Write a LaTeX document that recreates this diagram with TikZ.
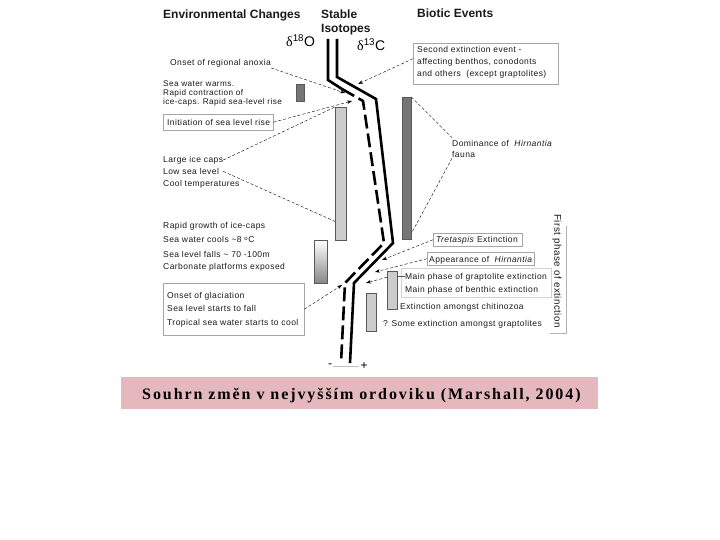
\documentclass[tikz,border=0pt]{standalone}
\usepackage{fontspec}
\setmainfont{Liberation Sans}
\newfontfamily\notefont[LetterSpace=5]{Liberation Sans}
\newfontfamily\greekfont{Liberation Serif}
\newfontfamily\capfont[LetterSpace=12]{Liberation Serif}
\usetikzlibrary{positioning, arrows.meta, shadows}

\definecolor{capbg}{RGB}{229,184,190}
\definecolor{bardark}{RGB}{118,118,118}
\definecolor{barlight}{RGB}{204,204,204}

\begin{document}
\begin{tikzpicture}[x=1pt, y=-1pt,
    head/.style={font=\bfseries\fontsize{12}{14}\selectfont, inner sep=0pt, anchor=base west, text=black!90},
    note/.style={font=\notefont\fontsize{8.5}{10}\selectfont, inner sep=0pt, anchor=base west, text=black!90},
    tightnote/.style={font=\notefont\fontsize{8.2}{9}\selectfont, inner sep=0pt, anchor=base west, text=black!90},
    iso/.style={font=\fontsize{14}{16}\selectfont, inner sep=0pt, anchor=base west},
    tbox/.style={draw=gray!70, fill=white, anchor=north west, inner sep=0pt,
        drop shadow={shadow xshift=1.2pt, shadow yshift=-1.2pt, fill=gray!55, opacity=1}},
    bar/.style={draw=gray!70!black, line width=0.4pt, anchor=north west, inner sep=0pt},
    isoline/.style={line width=2.6pt},
    pointer/.style={densely dashed, line width=0.4pt, -{Stealth[length=5pt, width=3.5pt]}},
    guide/.style={densely dashed, line width=0.4pt}]
    \useasboundingbox (0,0) rectangle (720,540);

    % headings
    \node[head] (envhead) at (163,19) {Environmental Changes};
    \node[head] (isohead) at (321,19) {Stable};
    \node[head] (isohead2) at (321,33) {Isotopes};
    \node[head] (biohead) at (417,18) {Biotic Events};
    \node[iso] (doxygen) at (286,47) {{\greekfont δ}\textsuperscript{18}O};
    \node[iso] (dcarbon) at (357,51) {{\greekfont δ}\textsuperscript{13}C};

    % isotope curves
    \draw[isoline] (337,39) -- (337,77) -- (376,99) -- (393,243) -- (354,283) -- (350,363);
    \draw[isoline] (328,39) -- (328,80) -- (342,89);
    \draw[isoline, dash pattern=on 14pt off 5pt] (342,89) -- (363,101) -- (384,243) -- (345,283) -- (341,363);
    \node[font=\fontsize{12}{14}\selectfont, inner sep=1pt] (minus) at (330,366) {-};
    \node[font=\fontsize{12}{14}\selectfont, inner sep=1pt] (plus) at (364,366) {+};
    \draw[gray!50] (minus) -- (plus);

    % bars
    \node[bar, fill=bardark, minimum width=8pt, minimum height=17pt] (warmbar) at (296,84) {};
    \node[bar, fill=barlight, minimum width=11pt, minimum height=133pt] (icebar) at (335,107) {};
    \node[bar, top color=white, bottom color=gray!95, minimum width=13pt, minimum height=43pt] (coolbar) at (314,240) {};
    \node[bar, fill=bardark, minimum width=9pt, minimum height=142pt] (himbar) at (402,97) {};
    \node[bar, fill=barlight, minimum width=10pt, minimum height=38pt] (graptbar) at (387,271) {};
    \node[bar, fill=barlight, minimum width=10pt, minimum height=38pt] (somebar) at (366,293) {};

    % arrow targets on the curves
    \coordinate (anoxtip) at (345,93);
    \coordinate (risetip) at (352,101);
    \coordinate (secondtip) at (358,84);
    \coordinate (glactip) at (342,285);
    \coordinate (tretatip) at (382,260);
    \coordinate (apptip) at (375,272);
    \coordinate (grapttip) at (366,283);

    % environmental changes
    \node[note] (anoxia) at (170,66) {Onset of regional anoxia};
    \foreach \t [count=\i] in {Sea water warms., Rapid contraction of, {ice-caps. Rapid sea-level rise}}
    {
    \node[tightnote] (warm\i) at (163,78+9*\i) {\t};
    }
    \node[tbox, minimum width=110pt, minimum height=16pt] (risebox) at (163,114) {};
    \node[note] (rise) at (167,125.5) {Initiation of sea level rise};
    \foreach \t [count=\i] in {Large ice caps, Low sea level, Cool temperatures}
    {
    \node[note] (ice\i) at (163,150+12.2*\i) {\t};
    }
    \node[note] (cool1) at (163,229) {Rapid growth of ice-caps};
    \node[note] (cool2) at (163,243) {Sea water cools \textasciitilde8 \textsuperscript{o}C};
    \node[note] (cool3) at (163,257) {Sea level falls \textasciitilde\ 70 -100m};
    \node[note] (cool4) at (163,269.5) {Carbonate platforms exposed};
    \node[tbox, minimum width=141pt, minimum height=52pt] (glacbox) at (163,283) {};
    \foreach \t [count=\i] in {Onset of glaciation, Sea level starts to fall, Tropical sea water starts to cool}
    {
    \node[note] (glac\i) at (167,284.5+13.5*\i) {\t};
    }

    % biotic events
    \node[tbox, minimum width=145pt, minimum height=41pt] (secondbox) at (413,43) {};
    \foreach \t [count=\i] in {Second extinction event -, {affecting benthos, conodonts}, and others\ \ (except graptolites)}
    {
    \node[note] (second\i) at (417,41+12*\i) {\t};
    }
    \node[note] (dom1) at (452,147) {Dominance of\ \ \textit{Hirnantia}};
    \node[note] (dom2) at (452,158) {fauna};
    \node[tbox, minimum width=89pt, minimum height=13pt] (tretabox) at (433,233) {};
    \node[note] (treta) at (436,242.5) {\textit{Tretaspis} Extinction};
    \node[tbox, minimum width=107pt, minimum height=13pt] (appbox) at (427,252) {};
    \node[note] (app) at (429,262) {Appearance of\ \ \textit{Hirnantia}};
    \draw[gray!35] (401,268) rectangle (551,297);
    \node[note] (grapt1) at (405,279) {Main phase of graptolite extinction};
    \node[note] (grapt2) at (405,292) {Main phase of benthic extinction};
    \node[note] (chitin) at (400,309) {Extinction amongst chitinozoa};
    \node[note] (somegr) at (383,326) {? Some extinction amongst graptolites};
    \node[note, font=\notefont\fontsize{9.8}{11}\selectfont, anchor=center, rotate=-90] (firstphase) at (557,271) {First phase of extinction};
    \coordinate (phasetop) at (566,226);
    \coordinate (phasebot) at (566,333);
    \draw[gray!60] (phasetop) -- (phasebot) -- ++(-16,0);

    % connectors
    \draw[pointer] (anoxia.south east) -- (anoxtip);
    \draw[pointer] (risebox.east) -- (risetip);
    \draw[guide] (ice1.east) -- (icebar.north west);
    \draw[guide] ([xshift=4pt]ice2.east) -- ([yshift=19pt]icebar.south west);
    \draw[pointer] (glacbox.east) -- (glactip);
    \draw[pointer] ([yshift=5pt]secondbox.west) -- (secondtip);
    \draw[guide] (himbar.north east) -- ([yshift=3pt]dom1.north west);
    \draw[guide] (dom2.south west) -- ([yshift=6pt]himbar.south east);
    \draw[pointer] (tretabox.west) -- (tretatip);
    \draw[pointer] (appbox.west) -- (apptip);
    \draw[pointer] ([yshift=13pt]graptbar.west) -- (grapttip);
    \draw[gray!70!black] ([yshift=14pt]graptbar.east) -- ([yshift=14pt]graptbar.east -| grapt1.west);

    % caption
    \node[fill=capbg, anchor=north west, inner sep=0pt, minimum width=477pt, minimum height=32pt] (capbox) at (121,377) {};
    \node[font=\capfont\bfseries\fontsize{16}{18}\selectfont, inner sep=0pt, anchor=base west] (caption) at (142,399) {Souhrn změn v nejvyšším ordoviku (Marshall, 2004)};
\end{tikzpicture}
\end{document}
